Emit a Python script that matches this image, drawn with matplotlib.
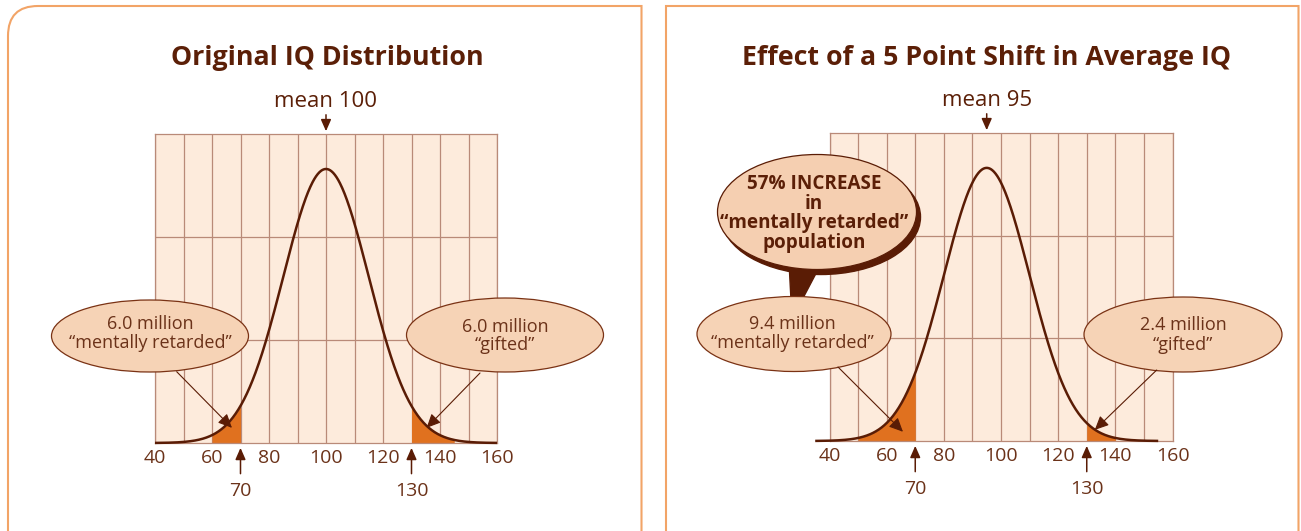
import numpy as np
import matplotlib
matplotlib.use("Agg")
import matplotlib.pyplot as plt
from matplotlib.patches import Ellipse, Polygon, PathPatch
from matplotlib.path import Path
import matplotlib.transforms as mtransforms

plt.rcParams['font.family'] = ['Open Sans', 'DejaVu Sans']

# ---- data ----
iq_ticks = [40, 60, 80, 100, 120, 140, 160]
grid_step = 10
means = [100, 95]
sd = 15
cutoffs = [70, 130]
titles = ["Original IQ Distribution", "Effect of a 5 Point Shift in Average IQ"]
mean_labels = ["mean 100", "mean 95"]
low_counts = ["6.0 million", "9.4 million"]
high_counts = ["6.0 million", "2.4 million"]
low_name = "\u201cmentally retarded\u201d"
high_name = "\u201cgifted\u201d"
curve_spans = [(40, 160), (35, 155)]
low_shade = [(60, 70), (50, 70)]
high_shade = [(130, 145), (130, 140)]
callout_lines = ["57% INCREASE", "in", "\u201cmentally retarded\u201d", "population"]

# ---- colours ----
BG = '#fdebdc'
GRIDC = '#b98a78'
CURVE = '#5a1c05'
FILL = '#e0711f'
TXT = '#5b1f07'
LAB = '#6b3219'
ELL = '#f6d3b6'
ELL_EDGE = '#7a3214'
BORDER = '#f2a467'

YTOP = 309 / 274  # peak sits at ~89% of grid height


def bell(x, m):
    return np.exp(-0.5 * ((x - m) / sd) ** 2)


fig = plt.figure(figsize=(13.01, 5.31), dpi=100)

# pixel overlay for frames, bubbles and titles
ov = fig.add_axes([0, 0, 1, 1], zorder=10)
ov.set_xlim(0, 1301)
ov.set_ylim(531, 0)
ov.axis('off')
ov.patch.set_alpha(0)

W, H = 1301.0, 531.0
boxes = [(155, 134, 497, 443), (829.5, 133, 1172.5, 441)]
axes = []
for (x0, y0, x1, y1) in boxes:
    a = fig.add_axes([x0 / W, (H - y1) / H, (x1 - x0) / W, (y1 - y0) / H], zorder=1)
    axes.append(a)

for i, ax in enumerate(axes):
    m = means[i]
    ax.set_facecolor(BG)
    ax.set_xlim(iq_ticks[0], iq_ticks[-1])
    ax.set_ylim(0, YTOP)
    for v in np.arange(iq_ticks[0], iq_ticks[-1] + 1, grid_step):
        ax.axvline(v, color=GRIDC, lw=0.9, zorder=1)
    for f in (1 / 3, 2 / 3):
        ax.axhline(YTOP * f, color=GRIDC, lw=0.9, zorder=1)
    for s in ax.spines.values():
        s.set_color(GRIDC)
        s.set_linewidth(0.9)

    for lo, hi in (low_shade[i], high_shade[i]):
        xs = np.linspace(lo, hi, 100)
        ax.fill_between(xs, bell(xs, m), color=FILL, lw=0, zorder=2)

    x = np.linspace(curve_spans[i][0], curve_spans[i][1], 600)
    ax.plot(x, bell(x, m), color=CURVE, lw=1.8, clip_on=False, zorder=4,
            solid_capstyle='butt')

    ax.set_xticks(iq_ticks)
    ax.set_xticklabels([str(t) for t in iq_ticks])
    ax.set_yticks([])
    ax.tick_params(axis='x', length=0, pad=4.5, labelsize=14, labelcolor=LAB)

    # mean label with arrow
    ax.annotate(mean_labels[i], xy=(m, 1), xycoords=('data', 'axes fraction'),
                xytext=(0, 27), textcoords='offset pixels', ha='center', va='baseline',
                fontsize=16, color=TXT, annotation_clip=False,
                arrowprops=dict(arrowstyle='-|>,head_length=0.5,head_width=0.22',
                                color=CURVE, lw=1.1, mutation_scale=14,
                                shrinkA=0, shrinkB=2))
    # cutoff markers
    for c in cutoffs:
        ax.annotate(str(c), xy=(c, 0), xycoords=('data', 'axes fraction'),
                    xytext=(0, -53), textcoords='offset pixels', ha='center', va='baseline',
                    fontsize=14, color=LAB, annotation_clip=False,
                    arrowprops=dict(arrowstyle='-|>,head_length=0.5,head_width=0.22',
                                    color=CURVE, lw=1.1, mutation_scale=14,
                                    shrinkA=4, shrinkB=3.5))

# ---- panel frames ----
def frame(x0, x1, r, left_round):
    top = 6
    if left_round:
        verts = [(x0, 531), (x0, top + r), (x0, top), (x0 + r, top), (x1, top), (x1, 531)]
    else:
        verts = [(x0, 531), (x0, top), (x1 - r, top), (x1, top), (x1, top + r), (x1, 531)]
    codes = [Path.MOVETO, Path.LINETO, Path.CURVE3, Path.CURVE3, Path.LINETO, Path.LINETO]
    ov.add_patch(PathPatch(Path(verts, codes), fill=False, edgecolor=BORDER, lw=1.5))

frame(8, 641.5, 30, True)
frame(666, 1298.5, 30, False)

# titles
ov.text(327, 65, titles[0], ha='center', va='baseline', fontsize=19.3,
        fontweight='bold', color=TXT)
ov.text(986, 65, titles[1], ha='center', va='baseline', fontsize=19.3,
        fontweight='bold', color=TXT)

# ---- callout bubble in right panel ----
ov.add_patch(Polygon([(789, 262), (822, 262), (802, 300), (791, 300)],
                     closed=True, color=CURVE, zorder=1))
ov.add_patch(Ellipse((821, 217), 199, 115, color=CURVE, zorder=2))
ov.add_patch(Ellipse((817, 212), 199, 115, facecolor='#f5cfb1',
                     edgecolor=CURVE, lw=0.9, zorder=3))
for k, line in enumerate(callout_lines):
    ov.text(814, 189 + 19.7 * k, line, ha='center', va='baseline', fontsize=13.6,
            fontweight='bold', color=TXT, zorder=4)

# ---- count ellipses with arrows ----
ell_specs = [
    # (panel, centre, size, text x, baselines, arrow start, tip x, tip frac)
    (0, (150, 336), (197, 72), 150, (329, 348), (176.7, 371.7), 67, 0.049, low_counts[0], low_name),
    (0, (505, 335), (197, 74), 505, (332, 350.5), (480, 373), 135.3, 0.049, high_counts[0], high_name),
    (1, (794, 334), (194, 75), 792, (329, 348), (838, 367), 65.7, 0.03, low_counts[1], low_name),
    (1, (1183, 334.5), (198, 75), 1183, (330, 350), (1156.7, 370), 132.8, 0.036, high_counts[1], high_name),
]
for (p, c, sz, tx, bl, start, tipx, tipf, t1, t2) in ell_specs:
    ov.add_patch(Ellipse(c, sz[0], sz[1], facecolor=ELL, edgecolor=ELL_EDGE,
                         lw=0.9, zorder=3))
    ov.text(tx, bl[0], t1, ha='center', va='baseline', fontsize=13, color=LAB, zorder=4)
    ov.text(tx, bl[1], t2, ha='center', va='baseline', fontsize=13, color=LAB, zorder=4)
    tr = mtransforms.blended_transform_factory(axes[p].transData, axes[p].transAxes)
    ov.annotate('', xy=(tipx, tipf), xycoords=tr, xytext=start, textcoords='data',
                annotation_clip=False, zorder=5,
                arrowprops=dict(arrowstyle='-|>,head_length=0.6,head_width=0.28',
                                color=CURVE, lw=0.8, mutation_scale=14,
                                shrinkA=0, shrinkB=0))

fig.savefig('out.png', dpi=100, facecolor='white')
